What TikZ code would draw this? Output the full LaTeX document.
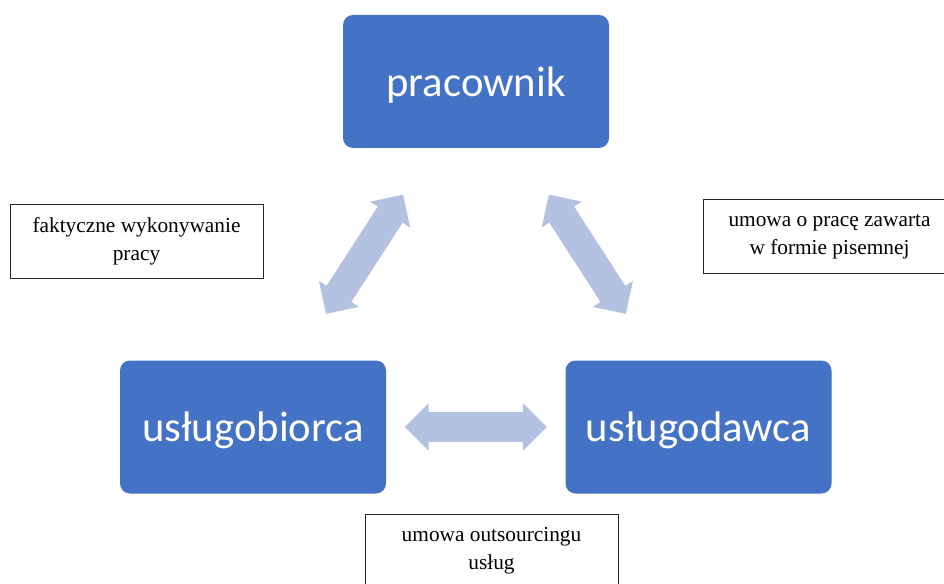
\documentclass[tikz,border=0pt]{standalone}
\usepackage{fontspec}
\setmainfont{Liberation Serif}
\newfontfamily\boxfont{Carlito}
\usetikzlibrary{shapes, calc}

\definecolor{boxblue}{RGB}{68,114,196}
\definecolor{arrowblue}{RGB}{180,194,226}

\tikzset{
  party/.style={fill=boxblue, rounded corners=7.5pt, minimum width=199.5pt, minimum height=99.75pt,
    inner sep=0pt, text depth=0pt, text=white, font=\boxfont\fontsize{32}{38}\selectfont},
  note/.style={draw=black!85, line width=0.75pt, minimum width=189.75pt, minimum height=54.75pt,
    inner sep=0pt, align=center, font=\fontsize{16}{21}\selectfont},
  link/.style={double arrow, fill=arrowblue, minimum height=106.5pt, text height=10.9pt, text depth=10.9pt,
    double arrow head extend=6.75pt, double arrow tip angle=90, inner sep=0pt},
}

\begin{document}
\begin{tikzpicture}[x=0.75pt, y=-0.75pt]

        \useasboundingbox (0,0) rectangle (944,584);
        \clip (0,0) rectangle (944,584);

        \node[party] (prac) at (476,81.5) {pracownik};
        \node[party] (biorca) at (253,427) {usługobiorca};
        \node[party] (dawca) at (698.5,427) {usługodawca};

        \path (biorca) -- node[link, sloped] (l1) {} (prac);
        \path (prac) -- node[link, sloped] (l2) {} (dawca);
        \path (biorca) -- node[link, sloped] (l3) {} (dawca);

        \node[note] (n1) at (136.5,241.5) {faktyczne wykonywanie\\pracy};
        \node[note] (n2) at (829.5,236.5) {umowa o pracę zawarta\\w formie pisemnej};
        \node[note] (n3) at (491.5,550.5) {umowa outsourcingu\\usług};

    \end{tikzpicture}
\end{document}
